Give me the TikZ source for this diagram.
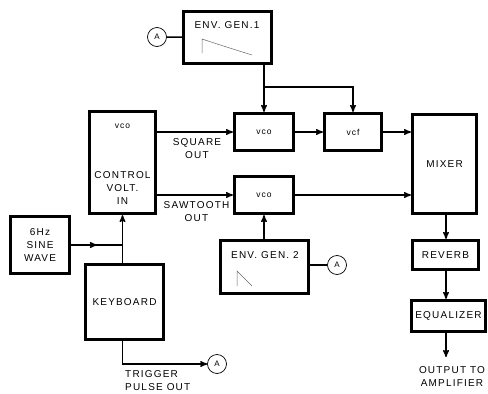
\documentclass[tikz,border=0pt]{standalone}
\usepackage{fontspec}
\newfontfamily\lblfont[LetterSpace=12]{Liberation Sans}
\usetikzlibrary{positioning,arrows,calc,decorations.markings}
\tikzset{>=stealth',
blk/.style={rectangle,draw,line width=3.2pt,inner sep=0pt},
txt/.style={font=\lblfont\fontsize{10}{13}\selectfont,inner sep=0pt,align=center},
sm/.style={font=\lblfont\fontsize{8.5}{9}\selectfont,inner sep=0pt},
lnk/.style={line width=1.4pt},
arr/.style={lnk,->},
midarr/.style={lnk,decoration={markings,mark=at position #1 with {\arrow{stealth'}}},postaction={decorate}},
ca/.style={circle,draw,line width=0.7pt,minimum size=19pt,inner sep=0pt,font=\lblfont\fontsize{8}{9}\selectfont},
wave/.style={line width=0.5pt,black!60},
}
\begin{document}
\begin{tikzpicture}[x=1pt,y=-1pt]
	\useasboundingbox (0,0) rectangle (488,394);

	% blocks
	\node[blk,minimum width=88pt,minimum height=52pt] (eg1) at (227.5,37.5) {};
	\node[blk,minimum width=66pt,minimum height=102pt] (vcoL) at (122.5,162.5) {};
	\node[blk,minimum width=59pt,minimum height=37pt] (vcoA) at (264,132) {};
	\node[blk,minimum width=57pt,minimum height=37pt] (vcf) at (353,132) {};
	\node[blk,minimum width=64pt,minimum height=99pt] (mixer) at (444.5,164) {};
	\node[blk,minimum width=59pt,minimum height=37pt] (vcoB) at (264,195) {};
	\node[blk,minimum width=88pt,minimum height=53pt] (eg2) at (264.5,267) {};
	\node[blk,minimum width=59pt,minimum height=57pt] (sine) at (40,245) {};
	\node[blk,minimum width=78pt,minimum height=75pt] (kbd) at (124.5,302) {};
	\node[blk,minimum width=66pt,minimum height=29pt] (rev) at (445.5,255) {};
	\node[blk,minimum width=74pt,minimum height=31pt] (eq) at (448.5,316) {};

	% block texts
	\node[txt] (eg1t) at (227,25) {ENV. GEN.1};
	\draw[wave] (202,53) -- (202,39) .. controls (220,45) and (236,50) .. (252,55);
	\node[sm] (vcoLt) at (122.5,126) {vco};
	\node[txt] (cvt) at (122.5,188) {CONTROL\\VOLT.\\IN};
	\node[sm] (vcoAt) at (vcoA) {vco};
	\node[sm] (vcft) at (vcf) {vcf};
	\node[txt] (mixt) at (mixer) {MIXER};
	\node[sm] (vcoBt) at (vcoB) {vco};
	\node[txt] (eg2t) at (265,255) {ENV. GEN. 2};
	\draw[wave] (237,286) -- (237,271) -- (252,286);
	\node[txt] (sinet) at (40,245) {6Hz\\SINE\\WAVE};
	\node[txt] (kbdt) at (kbd) {KEYBOARD};
	\node[txt] (revt) at (rev) {REVERB};
	\node[txt] (eqt) at (eq) {EQUALIZER};

	% A markers
	\node[ca] (a1) at (157,37) {A};
	\node[ca] (a2) at (337,265) {A};
	\node[ca] (a3) at (217,364) {A};
	\coordinate (out) at (446,357);

	% connections
	\coordinate (j1) at ($(vcoA.north |- eg1.south)+(0,22)$);
	\draw[lnk] (a1) -- (eg1);
	\draw[lnk] (vcoA.north |- eg1.south) -- (j1);
	\draw[arr] (j1) -- (vcoA.north);
	\draw[arr] (j1) -| (vcf.north);
	\draw[arr] (vcoL.east |- vcoA) -- (vcoA.west);
	\draw[arr] (vcoL.east |- vcoB) -- (vcoB.west);
	\draw[arr] (vcoA.east) -- (vcf.west);
	\draw[arr] (vcf.east) -- (mixer.west |- vcf);
	\draw[arr] (vcoB.east) -- (mixer.west |- vcoB);
	\draw[arr] (eg2.north -| vcoB) -- (vcoB.south);
	\draw[lnk] (eg2.east |- a2) -- (a2);
	\draw[midarr=0.5] (sine.east) -- (sine.east -| vcoL.south);
	\draw[arr] (kbd.north -| vcoL.south) -- (vcoL.south);
	\draw[arr] (kbd.south -| vcoL.south) |- (a3.west);
	\draw[arr] (mixer.south -| out) -- (rev.north -| out);
	\draw[arr] (rev.south -| out) -- (eq.north -| out);
	\draw[arr] (eq.south -| out) -- (out);

	% connector labels
	\node[txt] (sqt) at (197,149) {SQUARE\\OUT};
	\node[txt] (swt) at (196.5,211.5) {SAWTOOTH\\OUT};
	\node[txt,align=left,anchor=north west] (trg) at (125,370) {TRIGGER\\PULSE OUT};
	\node[txt] (outt) at (452,377) {OUTPUT TO\\AMPLIFIER};
\end{tikzpicture}
\end{document}
